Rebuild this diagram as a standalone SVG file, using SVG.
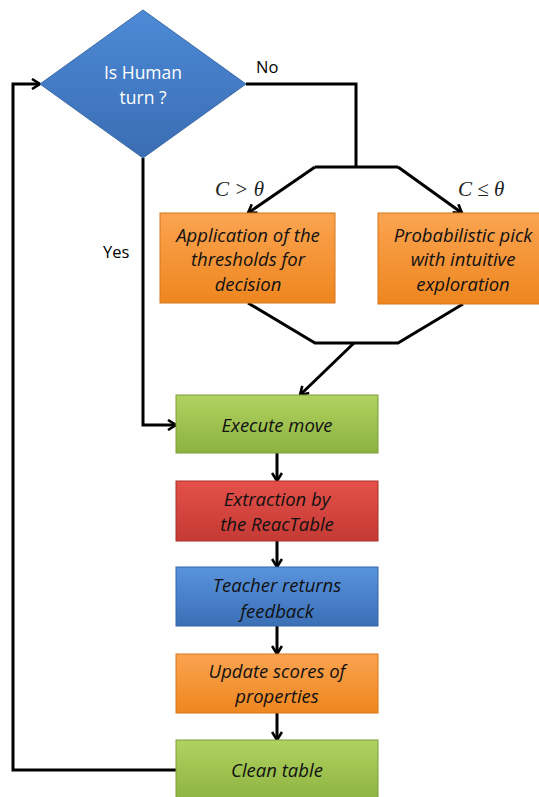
<svg xmlns="http://www.w3.org/2000/svg" width="539" height="797" viewBox="0 0 539 797">
<style>
.c{fill:none;stroke:#000;stroke-width:3;stroke-linejoin:miter}
.a{marker-end:url(#arr)}
.t{font-family:"Open Sans","Liberation Sans",sans-serif;font-style:italic;font-size:18.5px;fill:#111;text-anchor:middle}
.l{font-family:"Open Sans","Liberation Sans",sans-serif;font-size:16.5px;fill:#000}
.m{font-family:"Liberation Serif",serif;font-style:italic;font-size:21px;fill:#222}
.w{font-family:"Open Sans","Liberation Sans",sans-serif;font-size:17.5px;fill:#fff;text-anchor:middle}
</style>
<defs>
<marker id="arr" viewBox="0 0 12 12" refX="10" refY="6" markerWidth="12" markerHeight="12" markerUnits="userSpaceOnUse" orient="auto">
<path d="M2,1 L10,6 L2,11" fill="none" stroke="#000" stroke-width="2.6"/>
</marker>
<linearGradient id="gb" x1="0" y1="0" x2="0" y2="1"><stop offset="0" stop-color="#4d8ad6"/><stop offset="1" stop-color="#3a6db3"/></linearGradient>
<linearGradient id="go" x1="0" y1="0" x2="0" y2="1"><stop offset="0" stop-color="#fba451"/><stop offset="1" stop-color="#ee861f"/></linearGradient>
<linearGradient id="gg" x1="0" y1="0" x2="0" y2="1"><stop offset="0" stop-color="#b0d260"/><stop offset="1" stop-color="#8db23f"/></linearGradient>
<linearGradient id="gr" x1="0" y1="0" x2="0" y2="1"><stop offset="0" stop-color="#e5504a"/><stop offset="1" stop-color="#c43a34"/></linearGradient>
<linearGradient id="gbl" x1="0" y1="0" x2="0" y2="1"><stop offset="0" stop-color="#5994dc"/><stop offset="1" stop-color="#3b6fb6"/></linearGradient>
</defs>
<rect width="539" height="797" fill="#fff"/>
<g id="connectors">
<polyline class="c a" points="176,770 13,770 13,84 40,84"/>
<polyline class="c" points="246,84 356,84 356,167"/>
<polyline class="c" points="398,167 315,167"/>
<polyline class="c a" points="315,167 248,213"/>
<polyline class="c a" points="398,167 462,213"/>
<polyline class="c" points="248,303 315,343 398,343 463,304"/>
<polyline class="c a" points="354,343 300,395"/>
<polyline class="c a" points="143,158 143,425 176,425"/>
<line class="c a" x1="277" y1="453" x2="277" y2="481"/>
<line class="c a" x1="277" y1="541" x2="277" y2="567"/>
<line class="c a" x1="277" y1="626" x2="277" y2="654"/>
<line class="c a" x1="277" y1="713" x2="277" y2="740"/>
<text class="l" x="256" y="73">No</text>
<text class="l" x="103" y="258">Yes</text>
<text class="m" x="215" y="196">C &gt; θ</text>
<text class="m" x="458" y="196">C ≤ θ</text>
</g>
<g id="decision">
<polygon points="143,10 246,84 143,158 40,84" fill="url(#gb)" stroke="#3a6aa8" stroke-width="1"/>
<text class="w" x="143" y="79">Is Human</text>
<text class="w" x="143" y="104">turn ?</text>
</g>
<g id="thresholds">
<rect x="160" y="213" width="175" height="90" fill="url(#go)" stroke="#d67718" stroke-width="1"/>
<text class="t" x="248" y="242">Application of the</text>
<text class="t" x="248" y="266">thresholds for</text>
<text class="t" x="248" y="291">decision</text>
</g>
<g id="probabilistic">
<rect x="378" y="213" width="170" height="91" fill="url(#go)" stroke="#d67718" stroke-width="1"/>
<text class="t" x="463" y="242">Probabilistic pick</text>
<text class="t" x="463" y="266">with intuitive</text>
<text class="t" x="463" y="291">exploration</text>
</g>
<g id="execute">
<rect x="176" y="395" width="202" height="58" fill="url(#gg)" stroke="#7c9d38" stroke-width="1"/>
<text class="t" x="277" y="432">Execute move</text>
</g>
<g id="extraction">
<rect x="176" y="481" width="202" height="60" fill="url(#gr)" stroke="#a8302b" stroke-width="1"/>
<text class="t" x="277" y="506">Extraction by</text>
<text class="t" x="277" y="531">the ReacTable</text>
</g>
<g id="teacher">
<rect x="176" y="567" width="202" height="59" fill="url(#gbl)" stroke="#3565a6" stroke-width="1"/>
<text class="t" x="277" y="592">Teacher returns</text>
<text class="t" x="277" y="618">feedback</text>
</g>
<g id="update">
<rect x="176" y="654" width="202" height="59" fill="url(#go)" stroke="#d67718" stroke-width="1"/>
<text class="t" x="277" y="678">Update scores of</text>
<text class="t" x="277" y="703">properties</text>
</g>
<g id="clean">
<rect x="176" y="740" width="202" height="62" fill="url(#gg)" stroke="#7c9d38" stroke-width="1"/>
<text class="t" x="277" y="777">Clean table</text>
</g>
</svg>
